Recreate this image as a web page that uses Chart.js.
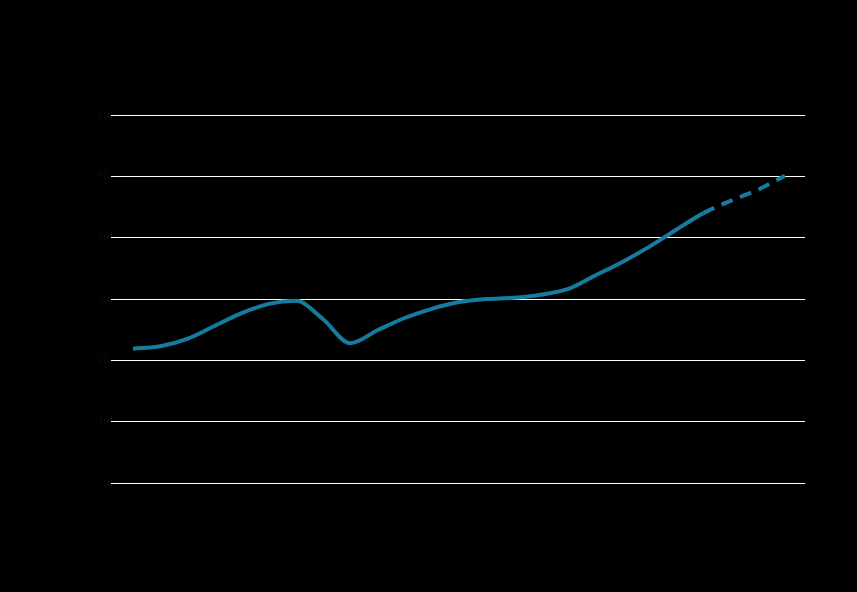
<!DOCTYPE html>
<html>
<head>
<meta charset="utf-8">
<script src="https://cdn.jsdelivr.net/npm/chart.js@4/dist/chart.umd.min.js"></script>
<style>
  html, body { margin: 0; padding: 0; background: #000; }
  #wrap { width: 857px; height: 592px; }
</style>
</head>
<body>
<div id="wrap"><canvas id="chart" width="857" height="592"></canvas></div>
<script>
'use strict';

// ─── Data ────────────────────────────────────────────────────────────────────
const years  = [2000, 2001, 2002, 2003, 2004, 2005, 2006, 2007, 2008, 2009, 2010, 2011,
                2012, 2013, 2014, 2015, 2016, 2017, 2018, 2019, 2020, 2021, 2022, 2023, 2024];
const values = [21.9, 22.3, 23.5, 25.6, 27.7, 29.2, 29.7, 26.7, 22.8, 24.9, 26.9, 28.4,
                29.5, 30.0, 30.2, 30.7, 31.6, 33.8, 36.0, 38.5, 41.3, 44.0, 46.0, 47.8, 50.1];
const yTicks = [0, 10, 20, 30, 40, 50, 60];
const PROJECTION_FROM = 2021; // dashed after this year

const LINE_COLOR = '#167c9f';

const points = years.map((y, i) => ({ x: y, y: values[i] }));

new Chart(document.getElementById('chart'), {
  type: 'line',
  data: {
    datasets: [{
      data: points,
      borderColor: LINE_COLOR,
      borderWidth: 4,
      pointRadius: 0,
      cubicInterpolationMode: 'monotone',
      segment: {
        borderDash: ctx => ctx.p0.parsed.x >= PROJECTION_FROM ? [12, 8] : undefined,
      },
    }],
  },
  options: {
    responsive: false,
    animation: false,
    layout: { padding: { top: 115, right: 52, left: 0, bottom: 0 } },
    plugins: { legend: { display: false }, tooltip: { enabled: false } },
    scales: {
      x: {
        type: 'linear',
        min: 1999.19,
        max: 2024.74,
        grid: { display: false },
        border: { display: false },
        ticks: { display: false },
        afterFit: s => { s.height = 109; },
      },
      y: {
        min: yTicks[0],
        max: yTicks[yTicks.length - 1],
        afterBuildTicks: s => { s.ticks = yTicks.map(v => ({ value: v })); },
        grid: { color: '#ffffff', lineWidth: 1, drawTicks: false },
        border: { display: false },
        ticks: { color: '#0b0b0b', font: { size: 10 }, padding: 2 },
        afterFit: s => { s.width = 111; },
      },
    },
  },
});
</script>
</body>
</html>
